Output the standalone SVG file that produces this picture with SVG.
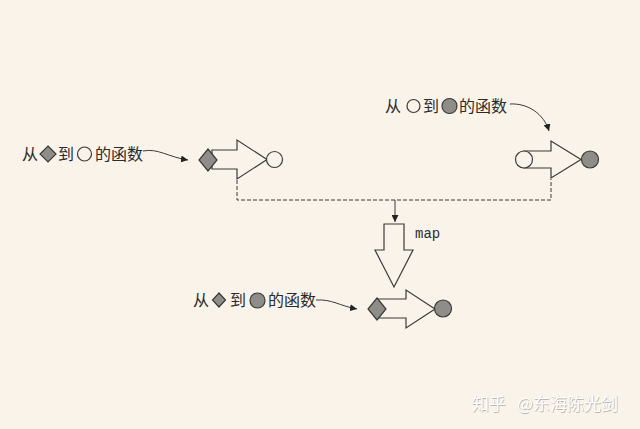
<svg xmlns="http://www.w3.org/2000/svg" width="640" height="429" viewBox="0 0 640 429">
<defs>
<style>
.bg{fill:#f9f3ea}
.lbl{font-family:"Noto Sans CJK SC","Noto Sans",sans-serif;font-size:16px;fill:#2a2a2a}
.mono{font-family:"Liberation Mono",monospace;font-size:14px;fill:#2a2a2a}
.arr{fill:#f9f3ea;stroke:#3a3a3a;stroke-width:1.2;stroke-linejoin:miter}
.gray{fill:#8f8d88;stroke:#3a3a3a;stroke-width:1.2}
.open{fill:#f9f3ea;stroke:#3a3a3a;stroke-width:1.2}
.conn{fill:none;stroke:#3a3a3a;stroke-width:1}
.dash{fill:none;stroke:#3a3a3a;stroke-width:1;stroke-dasharray:4 2}
.wm{font-family:"Noto Sans CJK SC","Noto Sans",sans-serif;font-size:17px;fill:#ffffff}
</style>
<marker id="ah" viewBox="0 0 10 10" refX="10" refY="5" markerWidth="7" markerHeight="7" orient="auto" markerUnits="userSpaceOnUse">
<path d="M0,0 L10,5 L0,10 Z" fill="#222"/>
</marker>
<filter id="sh" x="-10%" y="-30%" width="120%" height="160%">
<feDropShadow dx="0.6" dy="0.8" stdDeviation="0.6" flood-color="#9a948a" flood-opacity="0.8"/>
</filter>
</defs>
<rect class="bg" x="0" y="0" width="640" height="429"/>

<g id="connectors">
<path class="dash" d="M237,180 V200 H551 V179"/>
<path class="conn" d="M395,200 V222" marker-end="url(#ah)"/>
<path class="conn" d="M143,151 C158,148 168,157 188,160" marker-end="url(#ah)"/>
<path class="conn" d="M510,104 C528,103 544,114 549,131" marker-end="url(#ah)"/>
<path class="conn" d="M316,300 C332,299 340,306 357,309" marker-end="url(#ah)"/>
</g>

<g id="label-a-to-b">
<text class="lbl" x="22" y="160">从</text>
<polygon class="gray" points="48,146 56,154 48,162 40,154"/>
<text class="lbl" x="58" y="160">到</text>
<circle class="open" cx="84.5" cy="154" r="7"/>
<text class="lbl" x="95" y="160">的函数</text>
</g>

<g id="label-b-to-c">
<text class="lbl" x="385" y="112">从</text>
<circle class="open" cx="413.5" cy="106" r="6.5"/>
<text class="lbl" x="423" y="112">到</text>
<circle class="gray" cx="449.5" cy="106" r="7.5"/>
<text class="lbl" x="459" y="112">的函数</text>
</g>

<g id="label-a-to-c">
<text class="lbl" x="193" y="306">从</text>
<polygon class="gray" points="219,293 225.5,300 219,307 212.5,300"/>
<text class="lbl" x="230" y="306">到</text>
<circle class="gray" cx="257.5" cy="300.5" r="7.5"/>
<text class="lbl" x="268" y="306">的函数</text>
</g>

<g id="func-a-to-b">
<path class="arr" d="M212,150 H237 V140 L267,159.5 L237,179 V169 H212 Z"/>
<polygon class="gray" points="208,149 217,160 208,171 199,160"/>
<circle class="open" cx="274.5" cy="159.5" r="8"/>
</g>

<g id="func-b-to-c">
<path class="arr" d="M524,151 H551 V141 L581,159.5 L551,178 V168 H524 Z"/>
<circle class="open" cx="524" cy="159.5" r="8.5"/>
<circle class="gray" cx="590" cy="159.5" r="8.5"/>
</g>

<g id="map-arrow">
<path class="arr" d="M384,224 H404 V250 H413 L394,287 L375,250 H384 Z"/>
<text class="mono" x="415" y="238">map</text>
</g>

<g id="func-a-to-c">
<path class="arr" d="M377,299 H406 V290 L435,309 L406,328 V318 H377 Z"/>
<polygon class="gray" points="377,298 386,309 377,320 368,309"/>
<circle class="gray" cx="443" cy="308.5" r="8.5"/>
</g>

<g id="watermark" filter="url(#sh)">
<text class="wm" x="472" y="410">知乎</text>
<text class="wm" x="517" y="410">@东海陈光剑</text>
</g>
</svg>
